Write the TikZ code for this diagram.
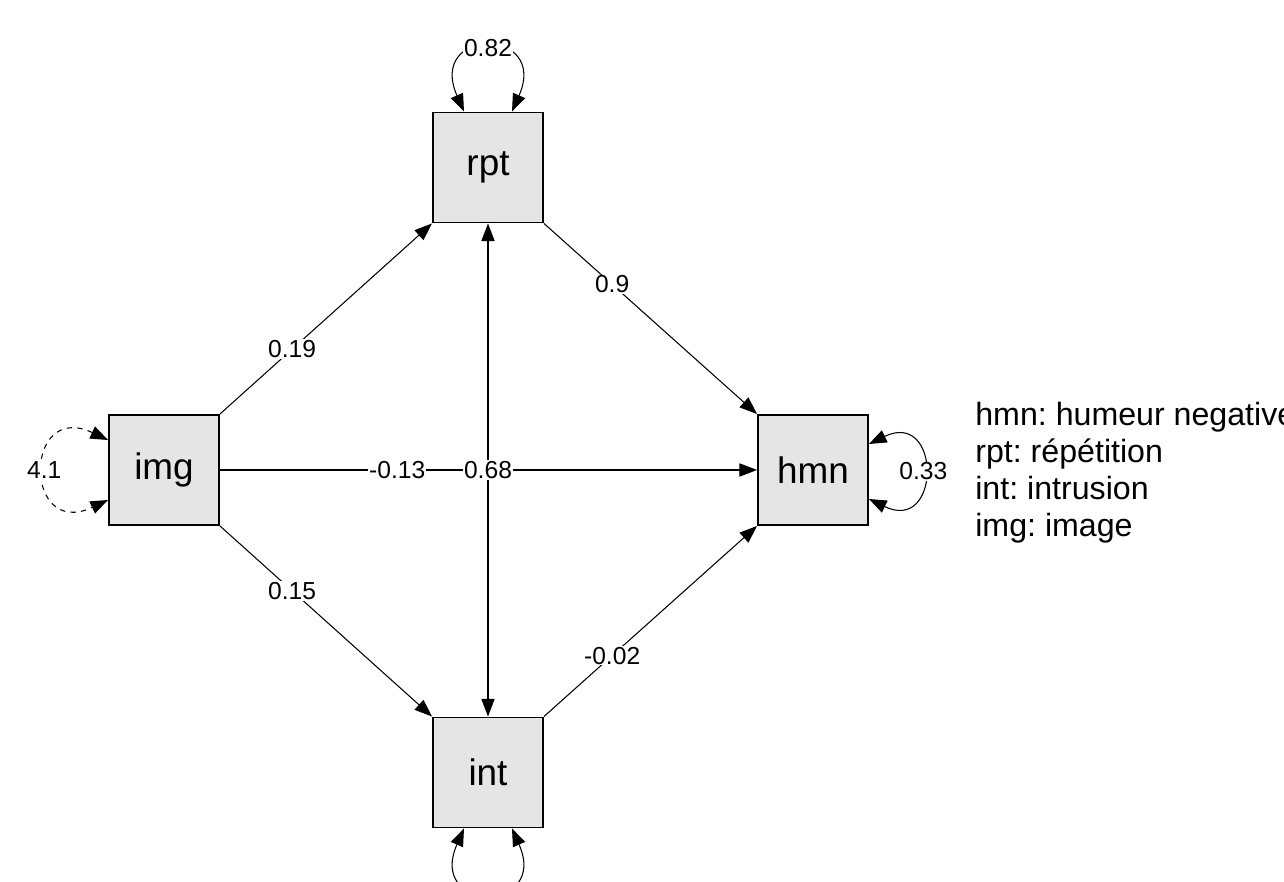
\documentclass[tikz,border=0pt]{standalone}
\usepackage{fontspec}
\setmainfont{Liberation Sans}
\frenchspacing
\usetikzlibrary{arrows.meta}

\begin{document}
\begin{tikzpicture}
  \tikzset{obs/.style = {draw, line width=1.1pt, fill=black!10, minimum size=2.2cm, inner sep=0pt, font=\fontsize{21}{25}\selectfont}}
  \tikzset{regr/.style = {->, line width=0.6pt}}
  \tikzset{coef/.style = {fill=white, inner sep=0.6pt, font=\fontsize{14}{16}\selectfont}}
  \tikzset{key/.style = {align=left, inner sep=0pt, font=\fontsize{18.3}{21}\selectfont}}
  \tikzset{>={Triangle[length=10pt,width=7.5pt]}}

\useasboundingbox (0,0) rectangle (25.68,17.64);

\node[obs] (rpt) at (9.76,14.29) {rpt};
\node[obs] (img) at (3.28,8.24) {img};
\node[obs] (hmn) at (16.26,8.24) {hmn};
\node[obs] (int) at (9.76,2.19) {int};
%\node[obs] (neg) at (16.26,14.29) {neg};

  % regressions
  \draw[regr] (img.north east) -- node[coef,pos=0.34]{0.19} (rpt.south west);
  \draw[regr] (img.south east) -- node[coef,pos=0.34]{0.15} (int.north west);
  \draw[regr] (rpt.south east) -- node[coef,pos=0.32]{0.9} (hmn.north west);
  \draw[regr] (int.north east) -- node[coef,pos=0.32]{-0.02} (hmn.south west);
  \draw[regr] (img) -- node[coef,pos=0.33]{-0.13} (hmn);
  \draw[regr,<->] (rpt) -- node[coef]{0.68} (int);

  % variances
  \draw[regr,<->] ([xshift=-0.48cm]rpt.north) .. controls +(-0.75,1.7) and +(0.75,1.7) .. node[coef]{0.82} ([xshift=0.48cm]rpt.north);
  \draw[regr,<->,dashed] ([yshift=0.6cm]img.west) .. controls +(-1.7,0.8) and +(-1.7,-0.8) .. node[coef]{4.1} ([yshift=-0.6cm]img.west);
  \draw[regr,<->] ([yshift=0.52cm]hmn.east) .. controls +(1.45,0.7) and +(1.45,-0.7) .. node[coef]{0.33} ([yshift=-0.58cm]hmn.east);
  \draw[regr,<->] ([xshift=-0.48cm]int.south) .. controls +(-0.75,-1.7) and +(0.75,-1.7) .. ([xshift=0.48cm]int.south);

\node[key, anchor=north west] (legend) at (19.5,9.6) {hmn: humeur negative\\rpt: répétition\\int: intrusion\\img: image};

\end{tikzpicture}
\end{document}
